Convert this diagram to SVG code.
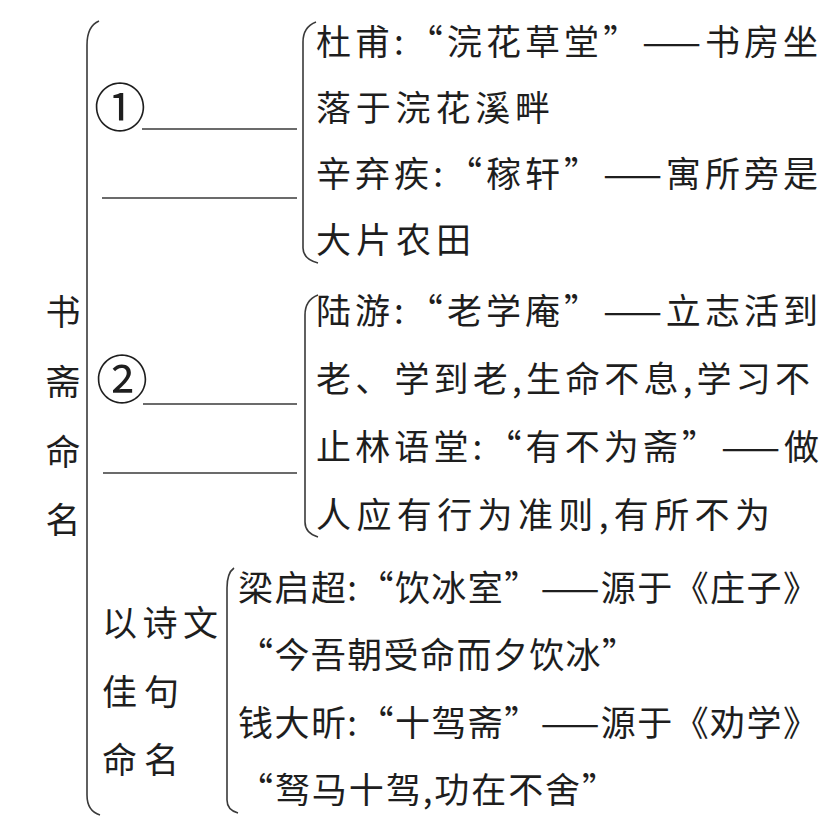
<svg xmlns="http://www.w3.org/2000/svg" width="839" height="825" viewBox="0 0 839 825">
<style>
.t{font-family:"Noto Sans CJK SC","Noto Sans CJK TC",sans-serif;font-size:35px;fill:#1e1e1e;}
.c{font-family:"Noto Sans CJK SC",sans-serif;font-size:52px;fill:#1e1e1e;}
.br{fill:none;stroke:#3a3a3a;stroke-width:1.6;}
.ul{stroke:#3a3a3a;stroke-width:1.5;}
</style>
<rect width="839" height="825" fill="#ffffff"/>
<g id="connectors">
<path class="br" d="M 99 21 Q 87 26 87 45 L 87 795 Q 87 811 100 815"/>
<path class="br" d="M 316 22 Q 303 27 303 42 L 303 248 Q 303 259 318 263"/>
<path class="br" d="M 318 295 Q 305 300 305 315 L 305 522 Q 305 533 318 537"/>
<path class="br" d="M 234 568 Q 227 573 227 588 L 227 800 Q 227 810 238 813"/>
</g>
<g id="root">
<text class="t" x="63" y="325" text-anchor="middle">书</text>
<text class="t" x="63" y="395" text-anchor="middle">斋</text>
<text class="t" x="63" y="465" text-anchor="middle">命</text>
<text class="t" x="63" y="533" text-anchor="middle">名</text>
</g>
<g id="item1">
<text class="c" x="94" y="127">①</text>
<line class="ul" x1="142" y1="129" x2="297" y2="129"/>
<line class="ul" x1="102" y1="198" x2="297" y2="198"/>
</g>
<g id="item2">
<text class="c" x="96" y="399">②</text>
<line class="ul" x1="143" y1="404" x2="297" y2="404"/>
<line class="ul" x1="103" y1="473" x2="297" y2="473"/>
</g>
<g id="item3">
<text class="t" x="102" y="636" textLength="116" lengthAdjust="spacing">以诗文</text>
<text class="t" x="102" y="705" textLength="77" lengthAdjust="spacing">佳句</text>
<text class="t" x="102" y="773" textLength="77" lengthAdjust="spacing">命名</text>
</g>
<g id="leaf1">
<text class="t" x="316" y="55" textLength="502" lengthAdjust="spacing">杜甫:“浣花草堂”——书房坐</text>
<text class="t" x="316" y="121" textLength="234" lengthAdjust="spacing">落于浣花溪畔</text>
<text class="t" x="316" y="187" textLength="502" lengthAdjust="spacing">辛弃疾:“稼轩”——寓所旁是</text>
<text class="t" x="316" y="253" textLength="155" lengthAdjust="spacing">大片农田</text>
</g>
<g id="leaf2">
<text class="t" x="316" y="324" textLength="502" lengthAdjust="spacing">陆游:“老学庵”——立志活到</text>
<text class="t" x="316" y="392" textLength="494" lengthAdjust="spacing">老、学到老,生命不息,学习不</text>
<text class="t" x="316" y="460" textLength="503" lengthAdjust="spacing">止林语堂:“有不为斋”——做</text>
<text class="t" x="316" y="528" textLength="454" lengthAdjust="spacing">人应有行为准则,有所不为</text>
</g>
<g id="leaf3">
<text class="t" x="238" y="601" textLength="580" lengthAdjust="spacing">梁启超:“饮冰室”——源于《庄子》</text>
<text class="t" x="238" y="668" textLength="399" lengthAdjust="spacing">“今吾朝受命而夕饮冰”</text>
<text class="t" x="238" y="736" textLength="580" lengthAdjust="spacing">钱大昕:“十驾斋”——源于《劝学》</text>
<text class="t" x="238" y="803" textLength="379" lengthAdjust="spacing">“驽马十驾,功在不舍”</text>
</g>
</svg>
